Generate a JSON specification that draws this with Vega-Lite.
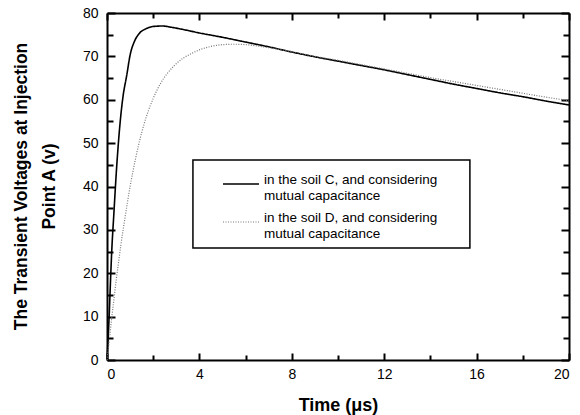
{
  "$schema": "https://vega.github.io/schema/vega-lite/v6.json",
  "width": 462,
  "height": 347,
  "autosize": "none",
  "padding": {"left": 107, "top": 13, "right": 11, "bottom": 55},
  "background": "white",
  "config": {
    "view": {"stroke": null},
    "font": "Liberation Sans",
    "axis": {
      "domainColor": "black",
      "domainWidth": 2,
      "tickColor": "black",
      "tickWidth": 2,
      "grid": false,
      "labelFont": "Liberation Sans",
      "labelFontSize": 14,
      "labelColor": "black",
      "titleFont": "Liberation Sans",
      "titleFontSize": 18,
      "titleFontWeight": "bold",
      "titleColor": "black"
    },
    "legend": {
      "labelFont": "Liberation Sans",
      "labelFontSize": 13.5,
      "labelColor": "black"
    }
  },
  "data": {
    "values": [
      {"t": 0, "v": 0, "s": "C"},
      {"t": 0.05, "v": 5, "s": "C"},
      {"t": 0.1, "v": 11, "s": "C"},
      {"t": 0.15, "v": 18, "s": "C"},
      {"t": 0.2, "v": 24.5, "s": "C"},
      {"t": 0.3, "v": 34, "s": "C"},
      {"t": 0.4, "v": 43, "s": "C"},
      {"t": 0.5, "v": 50.5, "s": "C"},
      {"t": 0.6, "v": 56.5, "s": "C"},
      {"t": 0.7, "v": 61, "s": "C"},
      {"t": 0.85, "v": 65.5, "s": "C"},
      {"t": 1.0, "v": 70.3, "s": "C"},
      {"t": 1.2, "v": 73.6, "s": "C"},
      {"t": 1.4, "v": 75.3, "s": "C"},
      {"t": 1.7, "v": 76.4, "s": "C"},
      {"t": 2.0, "v": 76.9, "s": "C"},
      {"t": 2.4, "v": 77.0, "s": "C"},
      {"t": 2.8, "v": 76.7, "s": "C"},
      {"t": 3.2, "v": 76.3, "s": "C"},
      {"t": 4, "v": 75.4, "s": "C"},
      {"t": 5, "v": 74.4, "s": "C"},
      {"t": 6, "v": 73.3, "s": "C"},
      {"t": 7, "v": 72.2, "s": "C"},
      {"t": 8, "v": 71.0, "s": "C"},
      {"t": 9, "v": 69.9, "s": "C"},
      {"t": 10, "v": 68.9, "s": "C"},
      {"t": 11, "v": 67.9, "s": "C"},
      {"t": 12, "v": 66.9, "s": "C"},
      {"t": 13, "v": 65.8, "s": "C"},
      {"t": 14, "v": 64.7, "s": "C"},
      {"t": 15, "v": 63.6, "s": "C"},
      {"t": 16, "v": 62.6, "s": "C"},
      {"t": 17, "v": 61.6, "s": "C"},
      {"t": 18, "v": 60.7, "s": "C"},
      {"t": 19, "v": 59.7, "s": "C"},
      {"t": 20, "v": 58.8, "s": "C"},
      {"t": 0, "v": 0, "s": "D"},
      {"t": 0.1, "v": 4.5, "s": "D"},
      {"t": 0.2, "v": 9.5, "s": "D"},
      {"t": 0.3, "v": 14, "s": "D"},
      {"t": 0.4, "v": 18.5, "s": "D"},
      {"t": 0.5, "v": 22.5, "s": "D"},
      {"t": 0.6, "v": 26.5, "s": "D"},
      {"t": 0.8, "v": 33.5, "s": "D"},
      {"t": 1.0, "v": 40, "s": "D"},
      {"t": 1.2, "v": 45.5, "s": "D"},
      {"t": 1.4, "v": 50.3, "s": "D"},
      {"t": 1.6, "v": 54.3, "s": "D"},
      {"t": 1.8, "v": 57.6, "s": "D"},
      {"t": 2.0, "v": 60.3, "s": "D"},
      {"t": 2.3, "v": 63.6, "s": "D"},
      {"t": 2.6, "v": 66, "s": "D"},
      {"t": 2.9, "v": 67.8, "s": "D"},
      {"t": 3.3, "v": 69.6, "s": "D"},
      {"t": 3.6, "v": 70.5, "s": "D"},
      {"t": 4.0, "v": 71.5, "s": "D"},
      {"t": 4.5, "v": 72.3, "s": "D"},
      {"t": 5.0, "v": 72.7, "s": "D"},
      {"t": 5.5, "v": 72.8, "s": "D"},
      {"t": 6.0, "v": 72.7, "s": "D"},
      {"t": 6.5, "v": 72.4, "s": "D"},
      {"t": 7, "v": 72.0, "s": "D"},
      {"t": 8, "v": 71.1, "s": "D"},
      {"t": 9, "v": 70.0, "s": "D"},
      {"t": 10, "v": 69.1, "s": "D"},
      {"t": 11, "v": 68.1, "s": "D"},
      {"t": 12, "v": 67.1, "s": "D"},
      {"t": 13, "v": 66.1, "s": "D"},
      {"t": 14, "v": 65.1, "s": "D"},
      {"t": 15, "v": 64.2, "s": "D"},
      {"t": 16, "v": 63.3, "s": "D"},
      {"t": 17, "v": 62.4, "s": "D"},
      {"t": 18, "v": 61.5, "s": "D"},
      {"t": 19, "v": 60.6, "s": "D"},
      {"t": 20, "v": 59.8, "s": "D"}
    ]
  },
  "resolve": {"axis": {"x": "independent", "y": "independent"}},
  "layer": [
    {
      "mark": {"type": "line", "opacity": 0},
      "encoding": {
        "x": {"field": "t", "type": "quantitative", "scale": {"domain": [0, 20], "nice": false},
          "axis": {"orient": "top", "values": [0, 2, 4, 6, 8, 10, 12, 14, 16, 18, 20], "labels": false, "title": null,
            "tickSize": {"condition": {"test": "datum.value % 4 === 0", "value": -7}, "value": -5}}},
        "y": {"field": "v", "type": "quantitative", "scale": {"domain": [0, 80], "nice": false},
          "axis": {"orient": "right", "values": [0, 5, 10, 15, 20, 25, 30, 35, 40, 45, 50, 55, 60, 65, 70, 75, 80], "labels": false, "title": null,
            "tickSize": {"condition": {"test": "datum.value % 10 === 0", "value": -8}, "value": -6}}},
        "detail": {"field": "s"}
      }
    },
    {
      "mark": {"type": "line", "interpolate": "monotone"},
      "encoding": {
        "x": {"field": "t", "type": "quantitative",
          "axis": {"orient": "bottom", "values": [0, 2, 4, 6, 8, 10, 12, 14, 16, 18, 20],
            "labelExpr": "datum.value % 4 === 0 ? datum.label : ''",
            "labelPadding": 14,
            "tickSize": {"condition": {"test": "datum.value % 4 === 0", "value": -7}, "value": -5},
            "title": "Time (\u03bcs)", "titleY": 50, "titleBaseline": "alphabetic"}},
        "y": {"field": "v", "type": "quantitative",
          "axis": {"orient": "left", "values": [0, 5, 10, 15, 20, 25, 30, 35, 40, 45, 50, 55, 60, 65, 70, 75, 80],
            "labelExpr": "datum.value % 10 === 0 ? datum.label : ''",
            "labelPadding": 17,
            "tickSize": {"condition": {"test": "datum.value % 10 === 0", "value": -8}, "value": -6},
            "title": ["The Transient Voltages at Injection", "Point A (v)"],
            "titleFontSize": 17.5,
            "titleLineHeight": 28, "titleX": -86, "titleY": 173, "titleBaseline": "middle", "titleAngle": -90}},
        "color": {"field": "s", "type": "nominal",
          "scale": {"domain": ["C", "D"], "range": ["black", "#777777"]},
          "legend": {
            "orient": "none", "legendX": 86, "legendY": 144, "title": null,
            "strokeColor": null, "fillColor": null, "padding": 8,
            "symbolType": "stroke", "symbolSize": 1296, "symbolOffset": 21,
            "symbolStrokeWidth": 1.5,
            "labelLimit": 0, "labelOffset": 4, "labelBaseline": "alphabetic", "rowPadding": 1,
            "labelExpr": "datum.value === 'C' ? ['in the soil C, and considering', 'mutual capacitance'] : ['in the soil D, and considering', 'mutual capacitance']"
          }},
        "strokeDash": {"field": "s", "type": "nominal",
          "scale": {"domain": ["C", "D"], "range": [[1, 0], [1, 1.5]]},
          "legend": null},
        "strokeWidth": {"field": "s", "type": "nominal",
          "scale": {"domain": ["C", "D"], "range": [1.6, 1.2]},
          "legend": null}
      }
    },
    {
      "data": {"values": [{"box": "legend"}]},
      "mark": {"type": "rect", "fill": "white", "stroke": "black", "strokeWidth": 1.5},
      "encoding": {
        "x": {"datum": 3.72, "type": "quantitative", "axis": null},
        "x2": {"datum": 15.71},
        "y": {"datum": 46.1, "type": "quantitative", "axis": null},
        "y2": {"datum": 25.8}
      }
    }
  ]
}
